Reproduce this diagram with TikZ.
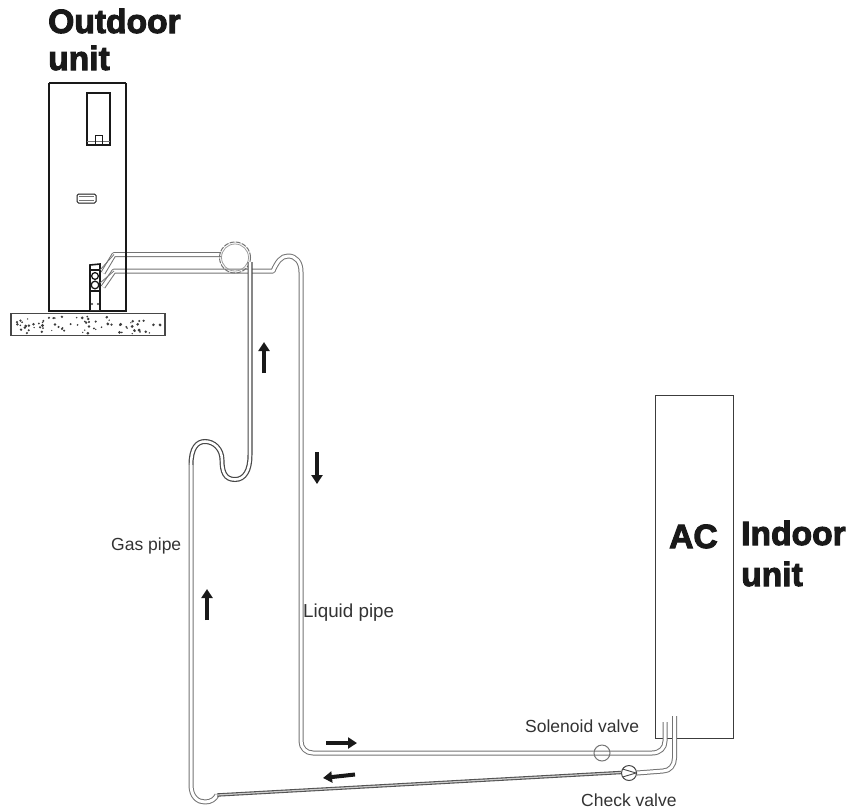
\documentclass[tikz,border=0pt]{standalone}
\usepackage{fontspec}
\setmainfont{Liberation Sans}
\newfontfamily\heavyfont[FakeBold=3]{Liberation Sans Bold}
\usetikzlibrary{arrows.meta}
\definecolor{pipegray}{gray}{0.45}
\definecolor{inkdark}{gray}{0.1}
\tikzset{
  pipe/.style={draw=pipegray,line width=1pt,double=white,double distance=3pt,line join=round},
  thinpipe/.style={draw=inkdark!75!white,line width=1.1pt,double=white!60!gray,double distance=1.2pt},
  title/.style={font=\heavyfont\fontsize{33.6}{33.6}\selectfont,inner sep=0pt,anchor=base west,text=inkdark},
  smalltext/.style={font=\fontsize{17.5}{17.5}\selectfont,inner sep=0pt,anchor=base west,text=black!80},
  flow/.style={line width=4pt,draw=inkdark,-{Triangle[length=9pt,width=11pt]}},
  unitline/.style={draw=inkdark,line width=2.4pt},
  thinbox/.style={draw=inkdark,line width=1pt},
  valve/.style={circle,draw=pipegray,line width=1pt,minimum size=16pt,inner sep=0pt},
  speck/.style={fill=inkdark!85!white}
}
\begin{document}
\begin{tikzpicture}[x=1pt,y=-1pt]
\useasboundingbox (0,0) rectangle (848,809);
% titles
\node[title] (outa) at (48,33) {Outdoor};
\node[title] (outb) at (48,70) {unit};
\node[title] (ac) at (669,548) {AC};
\node[title] (ina) at (741,545) {Indoor};
\node[title] (inb) at (741,586) {unit};
% outdoor unit
\node[draw=none,minimum width=77pt,minimum height=228pt,inner sep=0pt] (outdoor) at (87.5,196) {};
\draw[unitline] (49,310) -- (49,83) (126,310) -- (126,83);
\draw[draw=inkdark,line width=1.6pt] (49,83) -- (126,83);
\draw[thinbox,line width=1.1pt] (87,93) -- (110,93) -- (110,145) -- (87,145) -- cycle;
\draw[thinbox,line width=1.6pt] (87,145) -- (110,145);
\draw[thinbox,draw=pipegray] (87,141) -- (110,141);
\draw[thinbox] (95,145) -- (95,135.5) -- (102,135.5) -- (102,145);
\draw[thinbox,rounded corners=1.5pt,fill=white] (77,194) rectangle (96,203);
\draw[thinbox,draw=pipegray] (79,196.5) -- (94,196.5) (79,200.5) -- (94,200.5);
\draw[unitline,line width=1.4pt] (48,311) -- (127,311);
% base
\node[draw=inkdark!80!white,line width=1.1pt,minimum width=154pt,minimum height=22.5pt,inner sep=0pt] (base) at (88,324.5) {};
\pgfmathsetseed{71}
\foreach \i in {1,...,75}{
  \pgfmathsetmacro{\px}{13+150*rnd}
  \pgfmathsetmacro{\py}{316+18*rnd}
  \pgfmathsetmacro{\pr}{0.7+0.9*rnd}
  \fill[speck] (\px,\py) circle[radius=\pr pt];
}
% coordinates for pipes
\coordinate (gasstart) at (103,273);
\coordinate (gasbend) at (114,254.5);
\coordinate (gasloop) at (221,254.5);
\coordinate (gasdown) at (250,262);
\coordinate (gasover) at (250,455);
\coordinate (gasleft) at (191,465);
\coordinate (gasfoot) at (191,785);
\coordinate (gasrise) at (217,795);
\coordinate (checkleft) at (621,772.5);
\coordinate (checkright) at (637,773);
\coordinate (indoorgasa) at (663,771);
\coordinate (indoorgasb) at (674.5,758);
\coordinate (indoorgasc) at (674.5,716);
\coordinate (liqstart) at (103,287);
\coordinate (liqbend) at (114,271);
\coordinate (liqhump) at (273,271);
\coordinate (liqtop) at (301,272);
\coordinate (liqfoot) at (301,741);
\coordinate (liqrun) at (313,753);
\coordinate (indoorliqa) at (652,753);
\coordinate (indoorliqb) at (665,741);
\coordinate (indoorliqc) at (665,722);
% indoor unit
\node[draw=inkdark!85!white,line width=0.9pt,minimum width=78pt,minimum height=343pt,inner sep=0pt] (indoor) at (694,566.5) {};
% pipes
\draw[pipe] (gasstart) -- (gasbend) -- (gasloop);
\draw[pipe] (liqstart) -- (liqbend) -- (liqhump) .. controls (277,262) and (281,256) .. (288,256) .. controls (296,256) and (301,262) .. (liqtop) -- (liqfoot) .. controls (301,748) and (306,753) .. (liqrun) -- (indoorliqa) .. controls (660,753) and (665,748) .. (indoorliqb) -- (indoorliqc);
% valve box
\draw[thinbox,line width=1.6pt,fill=white] (90,310) -- (90,265) -- (100,264) -- (100,310);
\draw[thinbox,line width=1.4pt] (90,270) -- (100,270) (90,291) -- (100,291);
\draw[thinbox,line width=1.3pt,fill=white] (95,276) circle[radius=3.4pt] (95,285) circle[radius=3.8pt];
\fill[speck] (92,304) circle[radius=1.2pt] (98,304) circle[radius=1.2pt];
\draw[pipegray,line width=0.8pt] (100,270) -- (114,254.5) (100,283) -- (114,271);
% unit right edge over pipes
\draw[unitline] (126,250) -- (126,310);
% coil
\node[circle,draw=pipegray,line width=1pt,dash pattern=on 5pt off 1.2pt,minimum size=31pt,inner sep=0pt] (coil) at (235,257.5) {};
\node[circle,draw=pipegray!70!white,line width=0.8pt,minimum size=27pt,inner sep=0pt] (coilin) at (235,257.5) {};
% gas pipe
\draw[draw=inkdark!80!white,line width=1.2pt,double=white,double distance=2.6pt] (gasdown) -- (gasover) .. controls (250,470) and (245,479.5) .. (235,479.5) .. controls (225,479.5) and (222,472) .. (222,460) .. controls (222,449) and (214,441.5) .. (205,441.5) .. controls (197,441.5) and (191,448) .. (gasleft);
\draw[pipe] (gasleft) -- (gasfoot) .. controls (191,797) and (198,802) .. (205,802) .. controls (211,802) and (215,799) .. (gasrise);
\draw[thinpipe] (gasrise) -- (checkleft);
\draw[pipe] (checkright) -- (indoorgasa) .. controls (670,771) and (674.5,765) .. (indoorgasb) -- (indoorgasc);
% valves
\node[valve] (solenoid) at (602,753) {};
\node[valve,draw=inkdark!80!white,fill=white,minimum size=15pt] (check) at (629,773) {};
\draw[draw=inkdark!80!white,line width=0.9pt] (622.5,769) -- (636,773) -- (622.5,777);
% labels
\node[smalltext] (gaslabel) at (111,550) {Gas pipe};
\node[smalltext,font=\fontsize{18.8}{18.8}\selectfont] (liqlabel) at (303,617) {Liquid pipe};
\node[smalltext] (sollabel) at (525,732) {Solenoid valve};
\node[smalltext] (chklabel) at (581,806) {Check valve};
% flow arrows
\coordinate (fa1) at (264,373); \coordinate (fa2) at (264,342);
\coordinate (fb1) at (317,452); \coordinate (fb2) at (317,484);
\coordinate (fc1) at (207,620); \coordinate (fc2) at (207,589);
\coordinate (fd1) at (326,743); \coordinate (fd2) at (357,743);
\coordinate (fe1) at (355,774.5); \coordinate (fe2) at (323,778);
\draw[flow] (fa1) -- (fa2);
\draw[flow] (fb1) -- (fb2);
\draw[flow] (fc1) -- (fc2);
\draw[flow] (fd1) -- (fd2);
\draw[flow] (fe1) -- (fe2);
\end{tikzpicture}
\end{document}
